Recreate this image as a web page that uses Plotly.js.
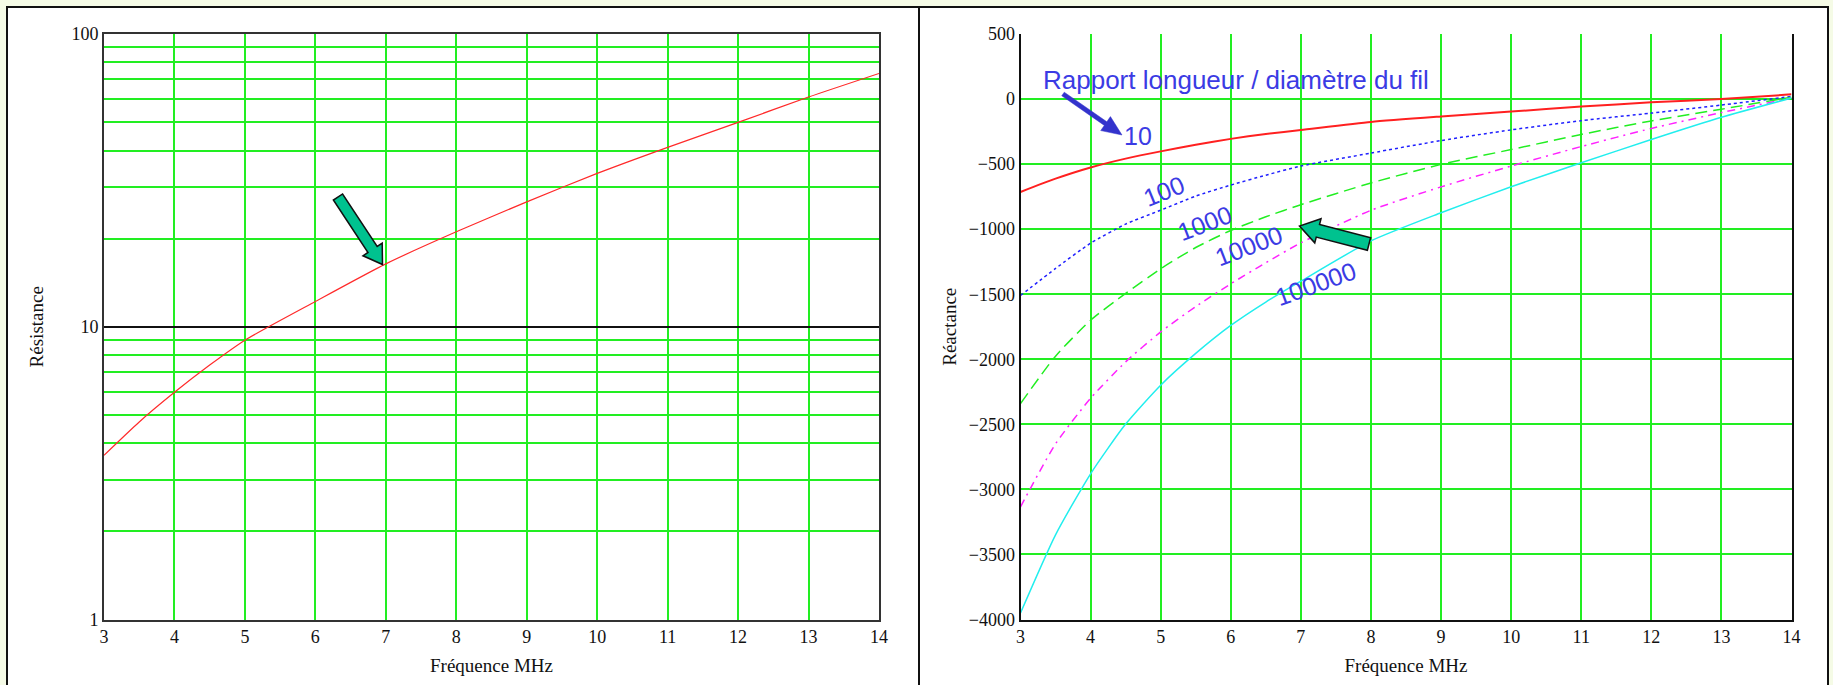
<!DOCTYPE html>
<html>
<head>
<meta charset="utf-8">
<script src="https://cdn.plot.ly/plotly-3.0.1.min.js"></script>
<style>
html,body{margin:0;padding:0;background:#F5FBE6;}
#chart{width:1833px;height:685px;}
</style>
</head>
<body>
<div id="chart"></div>
<script>
// ---------- data ----------
const freqRes = [3, 3.5, 4, 4.5, 5, 6, 7, 8, 9, 10, 11, 12, 13, 14];
const resistance = [3.64, 4.73, 5.97, 7.4, 9.0, 12.2, 16.4, 21.1, 26.7, 33.4, 41.0, 49.9, 60.9, 73.3];

const freqReact = [3, 3.5, 4, 4.5, 5, 5.5, 6, 6.5, 7, 8, 9, 10, 11, 12, 13, 14];
const react10     = [-714, -612, -526, -458, -402, -352, -306, -268, -238, -176, -134, -96, -58, -25, 0, 36];
const react100    = [-1510, -1302, -1108, -961, -854, -746, -661, -585, -515, -415, -319, -237, -166, -108, -46, 20];
const react1000   = [-2340, -1976, -1700, -1494, -1304, -1141, -1010, -905, -812, -645, -502, -388, -272, -168, -78, 14];
const react10000  = [-3134, -2650, -2300, -2020, -1790, -1595, -1420, -1258, -1105, -855, -675, -515, -365, -226, -104, 8];
const react100000 = [-3950, -3349, -2880, -2498, -2199, -1955, -1740, -1560, -1400, -1090, -874, -674, -490, -311, -140, 8];

const ratioLabels = ['10', '100', '1000', '10000', '100000'];
const freqTicks = [3, 4, 5, 6, 7, 8, 9, 10, 11, 12, 13, 14];
const resMajorTicks = [1, 10, 100];
const resMinorTicks = [2, 3, 4, 5, 6, 7, 8, 9, 20, 30, 40, 50, 60, 70, 80, 90];
const reactTicks = [-4000, -3500, -3000, -2500, -2000, -1500, -1000, -500, 0, 500];

const legendTitle = 'Rapport longueur / diamètre du fil';
const xTitle = 'Fréquence MHz';

// ---------- helpers ----------
const W = 1833, H = 685;
const px = x => x / W;
const py = y => 1 - y / H;

function fatArrow(tail, tip, sh, hh, hl) {
  const dx = tip[0] - tail[0], dy = tip[1] - tail[1];
  const L = Math.hypot(dx, dy);
  const ux = dx / L, uy = dy / L, nx = -uy, ny = ux;
  const bx = tip[0] - ux * hl, by = tip[1] - uy * hl;
  const pts = [
    [tail[0] + nx * sh, tail[1] + ny * sh],
    [bx + nx * sh, by + ny * sh],
    [bx + nx * hh, by + ny * hh],
    [tip[0], tip[1]],
    [bx - nx * hh, by - ny * hh],
    [bx - nx * sh, by - ny * sh],
    [tail[0] - nx * sh, tail[1] - ny * sh]
  ];
  return 'M ' + pts.map(p => px(p[0]).toFixed(5) + ',' + py(p[1]).toFixed(5)).join(' L ') + ' Z';
}

const GREEN = '#22EE22';
const serif = 'Liberation Serif, Times New Roman, serif';
const sans = 'Liberation Sans, Arial, sans-serif';
const BLUE_TXT = '#3B3BE4';

const yDom = [1 - 619.5 / H, 1 - 34 / H];

// ---------- traces ----------
const traces = [
  {x: freqRes, y: resistance, xaxis: 'x', yaxis: 'y', mode: 'lines',
   line: {color: '#FF2A2A', width: 1.2, shape: 'spline', smoothing: 0.6}, name: 'Résistance'},
  {x: freqReact, y: react10, xaxis: 'x2', yaxis: 'y2', mode: 'lines',
   line: {color: '#FF2020', width: 2, shape: 'spline', smoothing: 0.6}, name: ratioLabels[0]},
  {x: freqReact, y: react100, xaxis: 'x2', yaxis: 'y2', mode: 'lines',
   line: {color: '#2020FF', width: 1.5, dash: '3px,3px', shape: 'spline', smoothing: 0.6}, name: ratioLabels[1]},
  {x: freqReact, y: react1000, xaxis: 'x2', yaxis: 'y2', mode: 'lines',
   line: {color: '#22EE22', width: 1.5, dash: '12px,6px', shape: 'spline', smoothing: 0.6}, name: ratioLabels[2]},
  {x: freqReact, y: react10000, xaxis: 'x2', yaxis: 'y2', mode: 'lines',
   line: {color: '#FF22FF', width: 1.5, dash: '8px,5px,2px,5px', shape: 'spline', smoothing: 0.6}, name: ratioLabels[3]},
  {x: freqReact, y: react100000, xaxis: 'x2', yaxis: 'y2', mode: 'lines',
   line: {color: '#22EEEE', width: 1.5, shape: 'spline', smoothing: 0.6}, name: ratioLabels[4]}
];

const tickFont = {family: serif, size: 18, color: '#111'};
const titleFont = {family: serif, size: 19, color: '#111'};

const xCommon = {
  range: [3, 14], tickmode: 'array', tickvals: freqTicks, ticktext: freqTicks.map(String),
  showgrid: true, gridcolor: GREEN, gridwidth: 2, zeroline: false,
  ticks: '', tickfont: tickFont, showline: true, linewidth: 2,
  title: {text: xTitle, font: titleFont, standoff: 13}
};

const layout = {
  width: W, height: H,
  margin: {l: 0, r: 0, t: 0, b: 0},
  paper_bgcolor: '#F5FBE6',
  plot_bgcolor: 'rgba(0,0,0,0)',
  showlegend: false,
  xaxis: Object.assign({}, xCommon, {domain: [104 / W, 879 / W], anchor: 'y', linecolor: '#333', mirror: true}),
  yaxis: {
    domain: yDom, anchor: 'x', type: 'log', range: [0, 2],
    tickmode: 'array', tickvals: resMajorTicks, ticktext: resMajorTicks.map(String),
    showgrid: true, gridcolor: '#111', gridwidth: 1.5, zeroline: false,
    minor: {tickmode: 'array', tickvals: resMinorTicks, showgrid: true, gridcolor: GREEN, gridwidth: 2, ticks: ''},
    ticks: '', tickfont: tickFont, showline: true, linecolor: '#333', linewidth: 2, mirror: true,
    title: {text: 'Résistance', font: titleFont, standoff: 23}
  },
  xaxis2: Object.assign({}, xCommon, {domain: [1020.5 / W, 1791.5 / W], anchor: 'y2', linecolor: '#111'}),
  yaxis2: {
    domain: yDom, anchor: 'x2', range: [-4000, 500],
    tickmode: 'array', tickvals: reactTicks, ticktext: reactTicks.map(v => v < 0 ? '\u2212' + Math.abs(v) : String(v)),
    showgrid: true, gridcolor: GREEN, gridwidth: 2, zeroline: false,
    ticks: '', tickfont: tickFont, showline: true, linecolor: '#111', linewidth: 2, mirror: true,
    title: {text: 'Réactance', font: titleFont, standoff: 7}
  },
  shapes: [
    {type: 'rect', xref: 'paper', yref: 'paper', x0: px(7), x1: px(919), y0: py(720), y1: py(7),
     fillcolor: '#FFFFFF', line: {color: '#111', width: 2}, layer: 'below'},
    {type: 'rect', xref: 'paper', yref: 'paper', x0: px(919), x1: px(1828), y0: py(720), y1: py(7),
     fillcolor: '#FFFFFF', line: {color: '#111', width: 2}, layer: 'below'},
    {type: 'path', xref: 'paper', yref: 'paper', path: fatArrow([338, 197], [382.5, 264.5], 5.5, 11.5, 18),
     fillcolor: '#00C28F', line: {color: '#111', width: 1.5}},
    {type: 'path', xref: 'paper', yref: 'paper', path: fatArrow([1369, 244], [1299.5, 226], 6.5, 12.5, 19),
     fillcolor: '#00C28F', line: {color: '#111', width: 1.5}},
    {type: 'path', xref: 'paper', yref: 'paper', path: fatArrow([1063, 94], [1122, 135], 2.2, 8.5, 20),
     fillcolor: '#3333CC', line: {color: '#3333CC', width: 0.5}}
  ],
  annotations: [
    {xref: 'paper', yref: 'paper', x: px(1236), y: py(80), text: legendTitle, showarrow: false,
     font: {family: sans, size: 26, color: BLUE_TXT}, xanchor: 'center', yanchor: 'middle'},
    {xref: 'paper', yref: 'paper', x: px(1138), y: py(136), text: ratioLabels[0], showarrow: false,
     font: {family: sans, size: 25, color: BLUE_TXT}, xanchor: 'center', yanchor: 'middle'},
    {xref: 'paper', yref: 'paper', x: px(1164), y: py(191), text: ratioLabels[1], showarrow: false, textangle: -22,
     font: {family: sans, size: 25, color: BLUE_TXT}, xanchor: 'center', yanchor: 'middle'},
    {xref: 'paper', yref: 'paper', x: px(1205), y: py(223), text: ratioLabels[2], showarrow: false, textangle: -21,
     font: {family: sans, size: 25, color: BLUE_TXT}, xanchor: 'center', yanchor: 'middle'},
    {xref: 'paper', yref: 'paper', x: px(1248.5), y: py(246), text: ratioLabels[3], showarrow: false, textangle: -21,
     font: {family: sans, size: 25, color: BLUE_TXT}, xanchor: 'center', yanchor: 'middle'},
    {xref: 'paper', yref: 'paper', x: px(1315), y: py(284), text: ratioLabels[4], showarrow: false, textangle: -20,
     font: {family: sans, size: 25, color: BLUE_TXT}, xanchor: 'center', yanchor: 'middle'}
  ]
};

Plotly.newPlot('chart', traces, layout, {staticPlot: true, displayModeBar: false});
</script>
</body>
</html>
